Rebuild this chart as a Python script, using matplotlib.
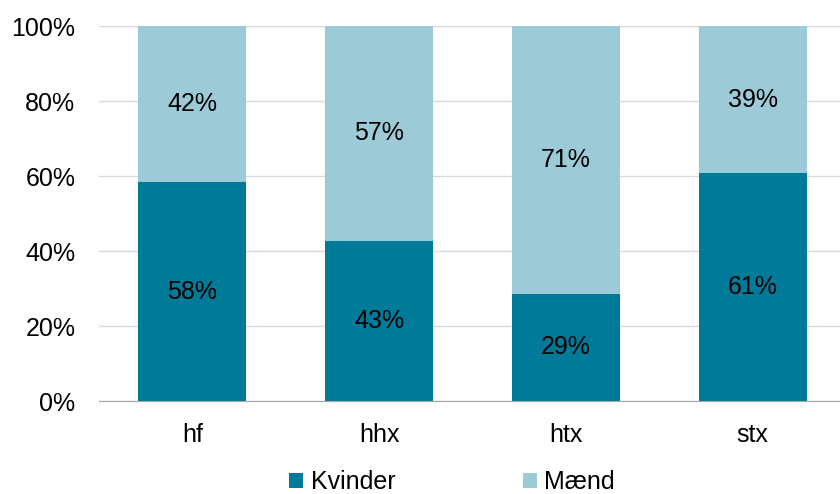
import matplotlib.pyplot as plt
import matplotlib.ticker as mtick

plt.rcParams['font.family'] = ['Liberation Sans', 'DejaVu Sans']

# Data
uddannelser = ['hf', 'hhx', 'htx', 'stx']
kvinder = [58.4, 42.7, 28.6, 60.8]
maend = [41.6, 57.3, 71.4, 39.2]

farve_kvinder = '#007A99'
farve_maend = '#9CCAD6'

fig = plt.figure(figsize=(8.4, 4.94), dpi=100)
ax = fig.add_axes([99 / 840, 1 - 401 / 494, 747 / 840, 375 / 494])

x = range(len(uddannelser))
b1 = ax.bar(x, kvinder, width=0.578, color=farve_kvinder, label='Kvinder', zorder=2)
b2 = ax.bar(x, maend, width=0.578, bottom=kvinder, color=farve_maend, label='Mænd', zorder=2)

for i in x:
    ax.text(i, kvinder[i] / 2, f'{kvinder[i]:.0f}%', ha='center', va='center', fontsize=18, color='black')
    ax.text(i, kvinder[i] + maend[i] / 2, f'{maend[i]:.0f}%', ha='center', va='center', fontsize=18, color='black')

ax.set_xlim(-0.5, len(uddannelser) - 0.5)
ax.set_ylim(0, 100)
ax.set_yticks(range(0, 101, 20))
ax.yaxis.set_major_formatter(mtick.PercentFormatter(decimals=0))
ax.set_xticks(list(x))
ax.set_xticklabels(uddannelser)
ax.tick_params(axis='both', length=0, labelsize=18)
ax.tick_params(axis='x', pad=16)
ax.tick_params(axis='y', pad=17)
ax.grid(axis='y', color='#D9D9D9', linewidth=1, zorder=0)

for s in ['top', 'right', 'left']:
    ax.spines[s].set_visible(False)
ax.spines['bottom'].set_color('#A6A6A6')
ax.spines['bottom'].set_zorder(3)

fig.legend(handles=[b1, b2], loc='center', bbox_to_anchor=(452 / 840, 1 - 482 / 494),
           ncol=2, frameon=False, fontsize=18, handlelength=0.55, handleheight=0.55,
           handletextpad=0.3, columnspacing=5.1)

plt.savefig('out.png')
plt.close()
